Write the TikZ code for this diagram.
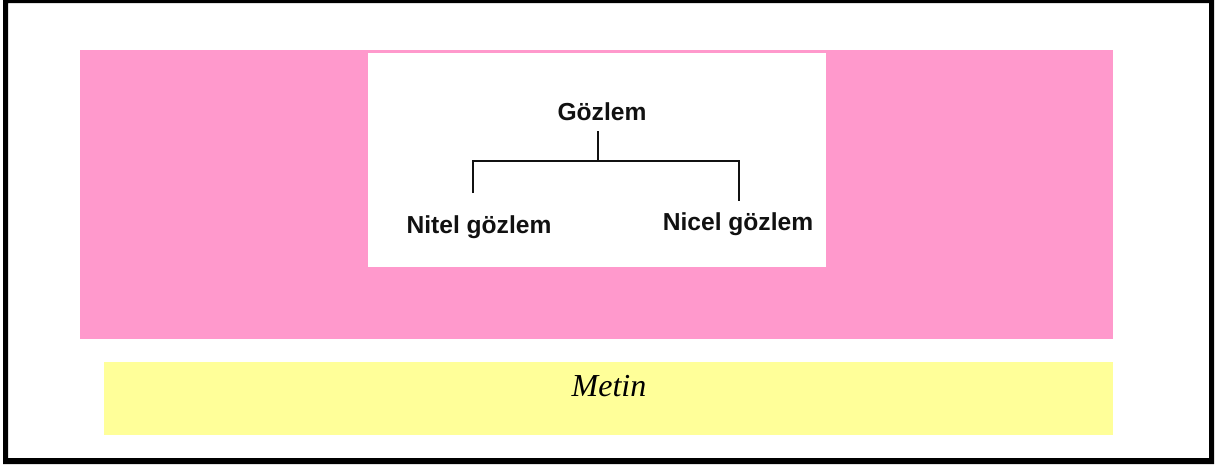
\documentclass[tikz,border=0pt]{standalone}
\usepackage{fontspec}
\setmainfont{Liberation Serif}
\setsansfont{Liberation Sans}
\usetikzlibrary{positioning}
\definecolor{FrameInk}{HTML}{000000}
\definecolor{PanelPink}{HTML}{FF99CC}
\definecolor{NoteYellow}{HTML}{FFFF99}
\definecolor{TreeInk}{HTML}{111111}

\begin{document}
\begin{tikzpicture}[
  x=1pt,y=-1pt,
  label/.style={font=\sffamily\bfseries\fontsize{24.6}{28}\selectfont,text=TreeInk,
                anchor=base,inner sep=0pt},
  tree/.style={draw=TreeInk,line width=1.2pt},
]
  \useasboundingbox (0,0) rectangle (1219,466);
  \fill[white] (0,0) rectangle (1219,466);
  % outer frame
  \fill[FrameInk,even odd rule] (3,0) rectangle (1214,464) (8,3) rectangle (1209,458);

  \fill[PanelPink] (80,50) rectangle (1113,339);
  \fill[white] (368,53) rectangle (826,267);
  \fill[NoteYellow] (104,362) rectangle (1113,435);

  \node[label] (gozlem) at (602,120) {Gözlem};
  \node[label] (nitel) at (479,233) {Nitel gözlem};
  \node[label] (nicel) at (738,230) {Nicel gözlem};

  \coordinate (stem) at (598,131);
  \coordinate (bar) at (598,161);
  \coordinate (leftend) at (473,193);
  \coordinate (rightend) at (739,201);
  \draw[tree] (stem) -- (bar);
  \draw[tree] (leftend) |- (rightend |- bar) -- (rightend);

  \node[font=\itshape\fontsize{32}{36}\selectfont,anchor=base,inner sep=0pt] (metin)
    at (609,396) {Metin};
\end{tikzpicture}
\end{document}
